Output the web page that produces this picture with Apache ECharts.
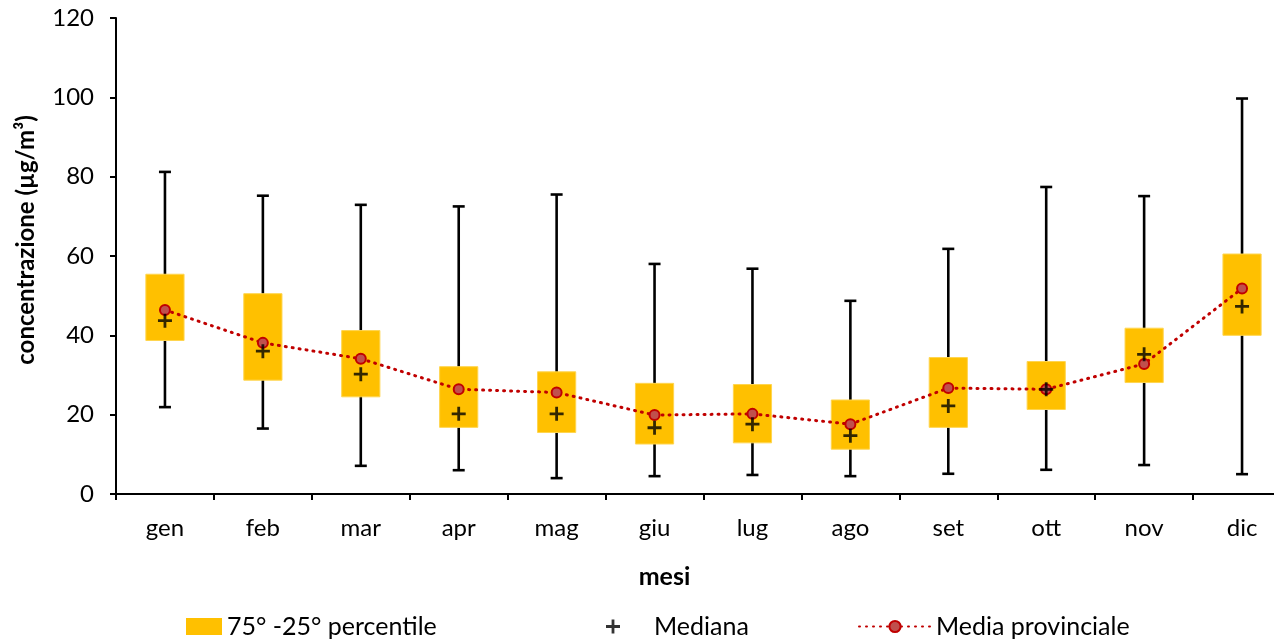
<!DOCTYPE html>
<html>
<head>
<meta charset="utf-8">
<script src="https://cdn.jsdelivr.net/npm/echarts@6/dist/echarts.min.js"></script>
<style>
  html, body { margin: 0; padding: 0; background: #fff; }
  #chart { width: 1274px; height: 641px; }
</style>
</head>
<body>
<div id="chart"></div>
<script>
const months = ['gen', 'feb', 'mar', 'apr', 'mag', 'giu', 'lug', 'ago', 'set', 'ott', 'nov', 'dic']
const minValues = [21.9, 16.5, 7.1, 6.0, 4.0, 4.5, 4.8, 4.5, 5.1, 6.1, 7.3, 5.0]
const p25Values = [38.7, 28.7, 24.5, 16.8, 15.5, 12.6, 12.9, 11.3, 16.8, 21.3, 28.1, 40.0]
const p75Values = [55.4, 50.5, 41.2, 32.1, 30.8, 27.9, 27.6, 23.7, 34.4, 33.4, 41.8, 60.5]
const maxValues = [81.2, 75.2, 72.9, 72.5, 75.5, 58.0, 56.8, 48.7, 61.8, 77.4, 75.1, 99.7]
const medianValues = [43.7, 36.0, 30.2, 20.2, 20.2, 16.7, 17.6, 14.7, 22.2, 26.4, 35.2, 47.3]
const meanValues = [46.4, 38.1, 34.1, 26.4, 25.6, 19.9, 20.2, 17.6, 26.7, 26.4, 32.8, 51.8]

const fontFamily = 'Lato, "Noto Sans", sans-serif'
const boxColor = '#FFC000'
const meanColor = '#C00000'
const plusPath = 'path://M4,0H6V4H10V6H6V10H4V6H0V4H4Z'

const boxData = months.map((_, i) => [i, minValues[i], p25Values[i], p75Values[i], maxValues[i]])

// whisker first, then the orange 25-75 box on top of it
function renderBox(params, api) {
  const idx = api.value(0)
  const low = api.coord([idx, api.value(1)])
  const q1 = api.coord([idx, api.value(2)])
  const q3 = api.coord([idx, api.value(3)])
  const high = api.coord([idx, api.value(4)])
  const boxWidth = api.size([1, 0])[0] * 0.39
  const capHalf = 6
  const x = low[0]
  const lineStyle = { stroke: '#000', lineWidth: 2.6 }
  return {
    type: 'group',
    children: [
      { type: 'line', shape: { x1: x, y1: low[1], x2: x, y2: high[1] }, style: lineStyle },
      { type: 'line', shape: { x1: x - capHalf, y1: high[1], x2: x + capHalf, y2: high[1] }, style: lineStyle },
      { type: 'line', shape: { x1: x - capHalf, y1: low[1], x2: x + capHalf, y2: low[1] }, style: lineStyle },
      {
        type: 'rect',
        shape: { x: x - boxWidth / 2, y: q3[1], width: boxWidth, height: q1[1] - q3[1] },
        style: { fill: boxColor, stroke: '#FFD54F', lineWidth: 1 },
      },
    ],
  }
}

const legendText = { fontSize: 25, color: '#000', fontFamily }

const chart = echarts.init(document.getElementById('chart'))
chart.setOption({
  backgroundColor: '#fff',
  animation: false,
  textStyle: { fontFamily },
  grid: { left: 116, top: 18, width: 1175, bottom: 147, outerBoundsMode: 'none' },
  legend: [
    {
      data: [{ name: '75° -25° percentile', icon: 'rect' }],
      left: 181, top: 609,
      itemWidth: 36, itemHeight: 17,
      textStyle: legendText,
      selectedMode: false,
    },
    {
      data: [{ name: 'Mediana', icon: plusPath }],
      left: 601, top: 609,
      itemWidth: 14, itemHeight: 14,
      textStyle: { ...legendText, padding: [0, 0, 0, 29] },
      selectedMode: false,
    },
    {
      data: ['Media provinciale'],
      left: 853, top: 609,
      itemWidth: 72, itemHeight: 14,
      textStyle: legendText,
      selectedMode: false,
    },
  ],
  xAxis: {
    type: 'category',
    data: months,
    name: 'mesi',
    nameLocation: 'middle',
    nameGap: 70,
    nameTextStyle: { fontSize: 25, fontWeight: 'bold', color: '#000', padding: [0, 78, 0, 0] },
    axisLine: { lineStyle: { color: '#000', width: 2 } },
    axisTick: { show: true, length: 6, lineStyle: { color: '#000', width: 2 } },
    axisLabel: { fontSize: 24, color: '#000', margin: 22 },
    splitLine: { show: false },
  },
  yAxis: {
    type: 'value',
    min: 0,
    max: 120,
    interval: 20,
    name: 'concentrazione (µg/m³)',
    nameLocation: 'middle',
    nameGap: 78,
    nameTextStyle: { fontSize: 24, fontWeight: 'bold', color: '#000', padding: [0, 0, 0, 32] },
    axisLine: { show: true, lineStyle: { color: '#000', width: 2 } },
    axisTick: { show: true, length: 6, lineStyle: { color: '#000', width: 2 } },
    axisLabel: { fontSize: 24, color: '#000', margin: 22 },
    splitLine: { show: false },
  },
  series: [
    {
      name: '75° -25° percentile',
      type: 'custom',
      renderItem: renderBox,
      data: boxData,
      itemStyle: { color: boxColor },
      encode: { x: 0, y: [1, 2, 3, 4] },
      z: 1,
    },
    {
      name: 'Media provinciale',
      type: 'line',
      data: meanValues,
      symbol: 'circle',
      symbolSize: 10,
      lineStyle: { color: meanColor, width: 3, type: [1, 6], cap: 'round' },
      itemStyle: { color: '#C0504D', borderColor: meanColor, borderWidth: 2 },
      z: 3,
    },
    {
      name: 'Mediana',
      type: 'scatter',
      data: medianValues,
      symbol: plusPath,
      symbolSize: 14,
      itemStyle: { color: '#000' },
      z: 4,
    },
  ],
})
</script>
</body>
</html>
